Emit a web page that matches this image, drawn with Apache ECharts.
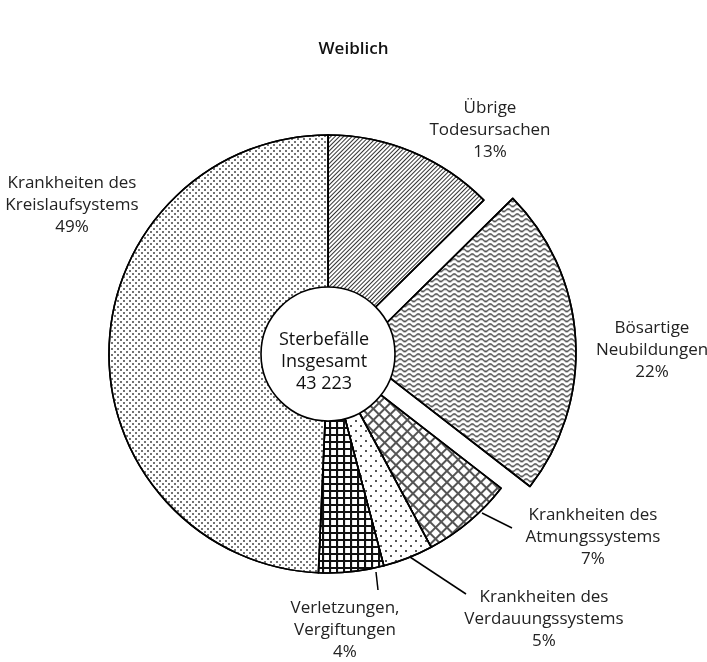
<!DOCTYPE html>
<html>
<head>
<meta charset="utf-8">
<script src="https://cdn.jsdelivr.net/npm/echarts@6/dist/echarts.min.js"></script>
<style>
  html, body { margin: 0; padding: 0; background: #fff; }
  #main { width: 707px; height: 662px; }
</style>
</head>
<body>
<div id="main"></div>
<script>
// Werte (Anteile aus dem Bild gemessen, Beschriftung wie gedruckt)
var categories = ['Übrige\nTodesursachen', 'Bösartige\nNeubildungen', 'Krankheiten des\nAtmungssystems',
    'Krankheiten des\nVerdauungssystems', 'Verletzungen,\nVergiftungen', 'Krankheiten des\nKreislaufsystems'];
var shares = [12.6, 22.9, 6.7, 3.7, 4.8, 49.3];
var percentLabels = ['13%', '22%', '7%', '5%', '4%', '49%'];
var totalTitle = ['Sterbefälle', 'Insgesamt'];
var totalDeaths = 43223;
var explodedIndex = 1;

// Layout
var center = [328, 354];
var radius = 219;
var holeRadius = 67;
var labelPos = [[490, 130], [652, 350], [593, 537], [544, 619], [345, 630], [72, 205]];
var labelLines = [null, null,
    [[482, 513], [512, 528]],
    [[410, 557], [466, 594]],
    [[376, 572], [378, 590]],
    null];

var FONT = '"Open Sans", "Noto Sans", sans-serif';

var decals = [
    // diagonale Schraffur
    { symbol: 'rect', color: '#333', dashArrayX: [1, 0], dashArrayY: [1, 2], rotation: -Math.PI / 4 },
    // Wellenlinien
    { symbol: 'path://M0,3 C2,-1 4,-1 6,3 C8,7 10,7 12,3 L12,7 C10,11 8,11 6,7 C4,3 2,3 0,7 Z',
      symbolKeepAspect: false, color: '#333', dashArrayX: [9, 0], dashArrayY: [4, 1] },
    // Rautengitter
    { symbol: 'path://M0,0 H10 V2.5 H2.5 V10 H0 Z', symbolKeepAspect: false, color: '#555',
      dashArrayX: [8, 0], dashArrayY: [8, 0], rotation: Math.PI / 4 },
    // lockere Punkte
    { symbol: 'rect', color: '#555', dashArrayX: [[2, 8], [0, 5, 2, 3]], dashArrayY: [2, 3] },
    // Karo
    { symbol: 'path://M0,0 H10 V3 H3 V10 H0 Z', symbolKeepAspect: false, color: '#111',
      dashArrayX: [7, 0], dashArrayY: [7, 0] },
    // dichte Punkte
    { symbol: 'circle', color: '#444', dashArrayX: [[2, 4], [0, 3, 2, 1]], dashArrayY: [2, 1] }
];

var pieData = categories.map(function (name, i) {
    return {
        name: name,
        value: shares[i],
        selected: i === explodedIndex,
        itemStyle: { color: '#fff', decal: decals[i] }
    };
});

// gleiche Werte, unsichtbar, nur fuer die Beschriftung
var labelData = categories.map(function (name, i) {
    return {
        name: name,
        value: shares[i],
        labelLine: { show: !!labelLines[i] }
    };
});

var myChart = echarts.init(document.getElementById('main'));

var option = {
    backgroundColor: '#fff',
    animation: false,
    title: {
        text: 'Weiblich',
        left: 'center',
        top: 36,
        textStyle: { fontFamily: FONT, fontSize: 17, fontWeight: 600, color: '#111' }
    },
    series: [
        {
            name: 'Todesursachen',
            type: 'pie',
            center: center,
            radius: [0, radius],
            startAngle: 90,
            clockwise: true,
            selectedMode: 'single',
            selectedOffset: 29,
            silent: true,
            emphasis: { disabled: true },
            itemStyle: { borderColor: '#000', borderWidth: 1.6 },
            label: { show: false },
            labelLine: { show: false },
            data: pieData
        },
        {
            name: 'Beschriftung',
            type: 'pie',
            center: center,
            radius: [0, radius],
            startAngle: 90,
            clockwise: true,
            silent: true,
            z: 3,
            emphasis: { disabled: true },
            itemStyle: { color: 'rgba(0,0,0,0)', borderWidth: 0 },
            label: {
                show: true,
                position: 'outside',
                fontFamily: FONT,
                fontSize: 17,
                lineHeight: 22,
                width: 220,
                overflow: 'none',
                color: '#222',
                formatter: function (p) {
                    return p.name + '\n' + percentLabels[p.dataIndex];
                }
            },
            labelLine: { lineStyle: { color: '#000', width: 1.5 } },
            labelLayout: function (params) {
                var i = params.dataIndex;
                var res = {
                    x: labelPos[i][0],
                    y: labelPos[i][1],
                    align: 'center',
                    verticalAlign: 'middle'
                };
                if (labelLines[i]) {
                    res.labelLinePoints = labelLines[i];
                }
                return res;
            },
            data: labelData
        },
        {
            name: 'Insgesamt',
            type: 'pie',
            center: center,
            radius: [0, holeRadius],
            z: 5,
            silent: true,
            emphasis: { disabled: true },
            itemStyle: { color: '#fff', borderColor: '#000', borderWidth: 1.6 },
            label: {
                show: true,
                position: 'center',
                fontFamily: FONT,
                fontSize: 18,
                lineHeight: 22,
                color: '#111',
                formatter: function (p) {
                    var num = String(p.value).replace(/\B(?=(\d{3})+(?!\d))/g, ' ');
                    return totalTitle.join('\n') + '\n' + num;
                }
            },
            labelLayout: function () {
                return { x: center[0] - 4, y: center[1] + 8, align: 'center', verticalAlign: 'middle' };
            },
            labelLine: { show: false },
            data: [{ name: 'Sterbefälle Insgesamt', value: totalDeaths }]
        }
    ]
};

myChart.setOption(option);
</script>
</body>
</html>
